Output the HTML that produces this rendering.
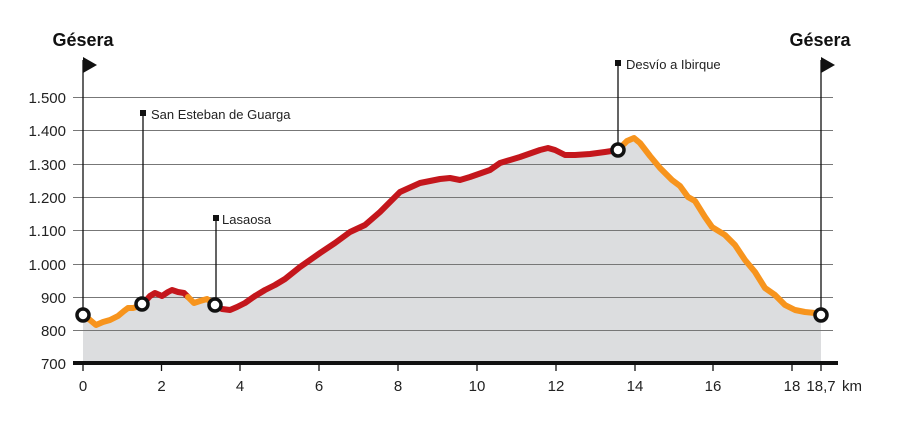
<!DOCTYPE html><html><head><style>body{margin:0;background:#fff}svg{display:block}text{font-family:"Liberation Sans",sans-serif}</style></head><body>
<svg width="907" height="434" viewBox="0 0 907 434">
<defs><clipPath id="c"><rect x="0" y="0" width="907" height="434"/></clipPath></defs>
<polygon fill="#dcdddf" points="83,363 83,315 90,320 96,325 103,322 110,320 118,316 124,311 128,308 133,308 140,306 143,304 150,296 155,293 162,296 168,292 172,290 178,292 184,293 188,297 194,303 200,301 207,299 215,305 222,309 230,310 237,307 245,303 255,296 265,290 275,285 285,279 300,267 320,253 335,243 350,232 365,225 380,212 400,192 420,183 440,179 450,178 460,180 470,177 490,170 500,163 520,157 540,150 548,148 555,150 565,155 575,155 590,154 605,152 618,150 627,141 634,138 640,143 650,156 660,168 672,180 680,186 688,197 695,201 705,217 712,227 725,235 735,245 745,260 755,272 765,288 775,295 785,305 795,310 805,312 815,313 821,315 821,363"/>
<g stroke="#777" stroke-width="1">
<line x1="73" y1="97.5" x2="833" y2="97.5"/><line x1="73" y1="130.5" x2="833" y2="130.5"/><line x1="73" y1="164.5" x2="833" y2="164.5"/><line x1="73" y1="197.5" x2="833" y2="197.5"/><line x1="73" y1="230.5" x2="833" y2="230.5"/><line x1="73" y1="264.5" x2="833" y2="264.5"/><line x1="73" y1="297.5" x2="833" y2="297.5"/><line x1="73" y1="330.5" x2="833" y2="330.5"/>
</g>
<line x1="73" y1="363" x2="838" y2="363" stroke="#111" stroke-width="4"/>
<g stroke="#111" stroke-width="1.3">
<line x1="83" y1="363" x2="83" y2="371"/><line x1="161.5" y1="363" x2="161.5" y2="371"/><line x1="240" y1="363" x2="240" y2="371"/><line x1="319" y1="363" x2="319" y2="371"/><line x1="398" y1="363" x2="398" y2="371"/><line x1="477" y1="363" x2="477" y2="371"/><line x1="556" y1="363" x2="556" y2="371"/><line x1="635" y1="363" x2="635" y2="371"/><line x1="713" y1="363" x2="713" y2="371"/><line x1="792" y1="363" x2="792" y2="371"/><line x1="821" y1="363" x2="821" y2="371"/>
<line x1="83" y1="60" x2="83" y2="315"/><line x1="821" y1="60" x2="821" y2="315"/><line x1="143" y1="113" x2="143" y2="304"/><line x1="216" y1="218" x2="216" y2="305"/><line x1="618" y1="63" x2="618" y2="150"/>
</g>
<polygon points="83,57 97,65 83,73" fill="#111"/><polygon points="821,57 835,65 821,73" fill="#111"/>
<rect x="140" y="110" width="6" height="6" fill="#111"/><rect x="213" y="215" width="6" height="6" fill="#111"/><rect x="615" y="60" width="6" height="6" fill="#111"/>
<g fill="none" stroke-width="6" stroke-linejoin="round" stroke-linecap="round">
<polyline stroke="#f7941d" points="83,315 90,320 96,325 103,322 110,320 118,316 124,311 128,308 133,308 140,306 143,304"/>
<polyline stroke="#c4161c" points="143,304 150,296 155,293 162,296 168,292 172,290 178,292 184,293 188,297"/>
<polyline stroke="#f7941d" points="188,297 194,303 200,301 207,299 215,305"/>
<polyline stroke="#c4161c" points="215,305 222,309 230,310 237,307 245,303 255,296 265,290 275,285 285,279 300,267 320,253 335,243 350,232 365,225 380,212 400,192 420,183 440,179 450,178 460,180 470,177 490,170 500,163 520,157 540,150 548,148 555,150 565,155 575,155 590,154 605,152 618,150"/>
<polyline stroke="#f7941d" points="618,150 627,141 634,138 640,143 650,156 660,168 672,180 680,186 688,197 695,201 705,217 712,227 725,235 735,245 745,260 755,272 765,288 775,295 785,305 795,310 805,312 815,313 821,315"/>
</g>
<g fill="#fff" stroke="#111" stroke-width="3.5">
<circle cx="83" cy="315" r="6"/><circle cx="142" cy="304" r="6"/><circle cx="215" cy="305" r="6"/><circle cx="618" cy="150" r="6"/><circle cx="821" cy="315" r="6"/>
</g>
<g font-size="15" fill="#222" text-anchor="end">
<text x="66" y="103">1.500</text><text x="66" y="136">1.400</text><text x="66" y="170">1.300</text><text x="66" y="203">1.200</text><text x="66" y="236">1.100</text><text x="66" y="270">1.000</text><text x="66" y="303">900</text><text x="66" y="336">800</text><text x="66" y="369">700</text>
</g>
<g font-size="15" fill="#222" text-anchor="middle">
<text x="83" y="391">0</text><text x="161.5" y="391">2</text><text x="240" y="391">4</text><text x="319" y="391">6</text><text x="398" y="391">8</text><text x="477" y="391">10</text><text x="556" y="391">12</text><text x="635" y="391">14</text><text x="713" y="391">16</text><text x="792" y="391">18</text><text x="821" y="391">18,7</text><text x="852" y="391">km</text>
</g>
<g font-size="13" fill="#222">
<text x="151" y="119">San Esteban de Guarga</text><text x="222" y="224">Lasaosa</text><text x="626" y="69">Desvío a Ibirque</text>
</g>
<g font-size="18" font-weight="bold" fill="#111" text-anchor="middle">
<text x="83" y="46">Gésera</text><text x="820" y="46">Gésera</text>
</g>
</svg></body></html>
